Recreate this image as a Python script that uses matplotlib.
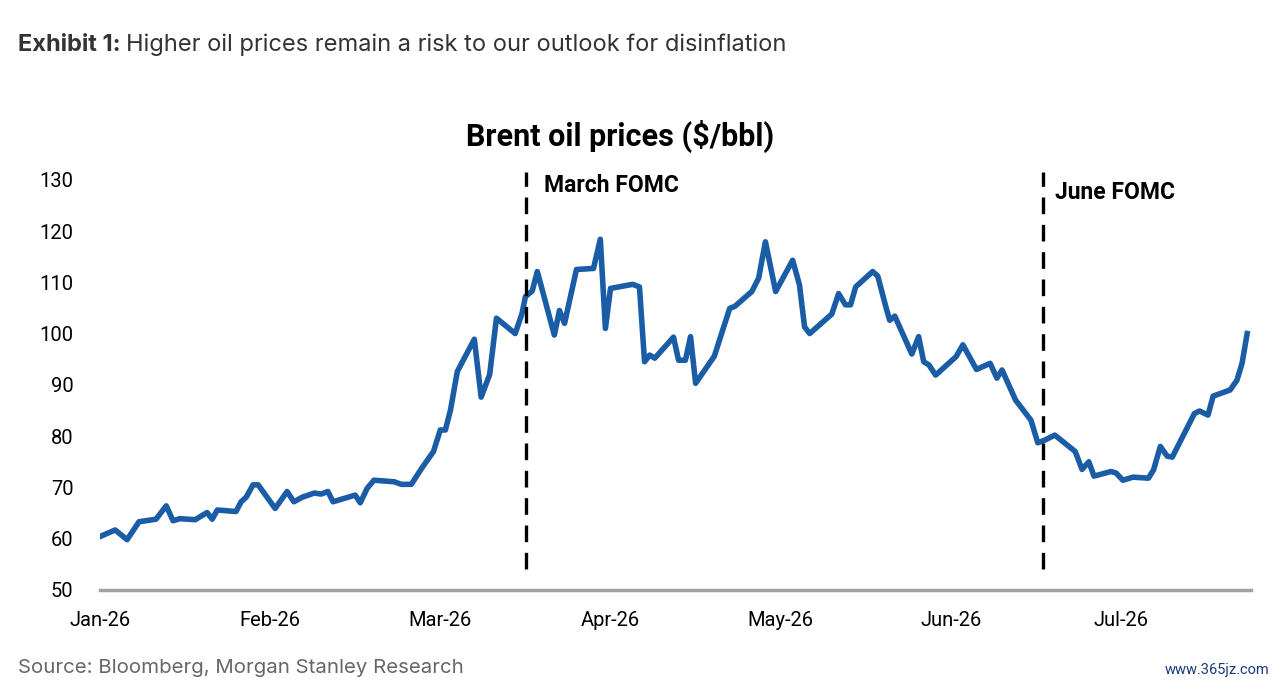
import matplotlib
matplotlib.use("Agg")
import matplotlib.pyplot as plt
from matplotlib import font_manager

# months since Jan-26 (category positions) and Brent price
months = [0.0, 0.09, 0.16, 0.23, 0.33, 0.39, 0.43, 0.47, 0.56, 0.63, 0.66, 0.69,
          0.80, 0.83, 0.86, 0.90, 0.93, 1.03, 1.10, 1.14, 1.19, 1.26, 1.30, 1.34,
          1.37, 1.50, 1.53, 1.57, 1.61, 1.73, 1.77, 1.83, 1.89, 1.96, 2.00, 2.03,
          2.06, 2.10, 2.20, 2.24, 2.29, 2.33, 2.44, 2.48, 2.50, 2.54, 2.57, 2.67,
          2.70, 2.73, 2.80, 2.90, 2.94, 2.97, 3.00, 3.13, 3.17, 3.20, 3.23, 3.26,
          3.37, 3.40, 3.44, 3.47, 3.50, 3.61, 3.70, 3.73, 3.83, 3.87, 3.91, 3.97,
          4.07, 4.11, 4.14, 4.17, 4.30, 4.34, 4.38, 4.41, 4.44, 4.54, 4.57, 4.62,
          4.64, 4.67, 4.77, 4.81, 4.84, 4.87, 4.91, 5.03, 5.07, 5.15, 5.23, 5.27,
          5.30, 5.38, 5.47, 5.51, 5.55, 5.61, 5.73, 5.77, 5.81, 5.84, 5.94, 5.97,
          6.01, 6.07, 6.16, 6.19, 6.23, 6.27, 6.30, 6.43, 6.46, 6.51, 6.54, 6.64,
          6.68, 6.71, 6.74]
brent = [60.4, 61.7, 59.8, 63.3, 63.8, 66.4, 63.5, 63.9, 63.7, 65.1, 63.8, 65.6,
         65.3, 67.2, 68.1, 70.5, 70.5, 65.9, 69.2, 67.2, 68.1, 68.9, 68.7, 69.2,
         67.2, 68.5, 67.0, 69.8, 71.4, 71.1, 70.6, 70.6, 73.7, 77.0, 81.2, 81.2,
         85.1, 92.6, 98.9, 87.6, 92.0, 103.0, 100.0, 103.9, 107.2, 108.3, 112.1, 99.7,
         104.5, 102.0, 112.5, 112.7, 118.4, 101.0, 108.8, 109.6, 109.1, 94.5, 95.8, 95.2,
         99.3, 94.8, 94.8, 99.4, 90.3, 95.6, 104.9, 105.3, 108.2, 110.8, 117.9, 108.2,
         114.3, 109.5, 101.3, 100.0, 103.8, 107.8, 105.6, 105.6, 109.1, 112.1, 111.2, 104.9,
         102.6, 103.4, 96.0, 99.4, 94.5, 93.9, 91.9, 95.5, 97.8, 93.0, 94.2, 91.3,
         92.9, 87.0, 83.1, 78.7, 79.2, 80.2, 77.0, 73.5, 75.0, 72.2, 73.1, 72.8,
         71.4, 72.0, 71.8, 73.4, 78.0, 76.1, 75.9, 84.4, 84.9, 84.1, 87.8, 89.0,
         90.9, 94.2, 100.0]

month_labels = ["Jan-26", "Feb-26", "Mar-26", "Apr-26", "May-26", "Jun-26", "Jul-26"]
fomc_pos = [2.506, 5.54]
fomc_names = ["March FOMC", "June FOMC"]
fomc_label_x = [2.61, 5.61]
fomc_label_y = [128.8, 127.6]

names = {f.name for f in font_manager.fontManager.ttflist}
narrow = "Liberation Sans Narrow" if "Liberation Sans Narrow" in names else "Roboto"
body = "Inter" if "Inter" in names else "DejaVu Sans"

fig = plt.figure(figsize=(12.8, 6.86), dpi=100)
ax = fig.add_axes([0.078, 0.140, 0.899, 0.598])

ax.plot(months, brent, color="#1a5da6", lw=4.0, solid_joinstyle="round")
for p, name, lx, ly in zip(fomc_pos, fomc_names, fomc_label_x, fomc_label_y):
    ax.plot([p, p], [54.0, 131.5], color="black", lw=2.4, ls=(0, (5, 3.2)), clip_on=False)
    ax.text(lx, ly, name, fontsize=16.5, fontweight="bold", family=narrow,
            va="center", ha="left")

ax.set_xlim(0, 6.76)
ax.set_ylim(50, 130)
ax.set_yticks(range(50, 131, 10))
ax.set_xticks(range(len(month_labels)))
ax.set_xticklabels(month_labels)
for lab in ax.get_xticklabels() + ax.get_yticklabels():
    lab.set_family(narrow)
    lab.set_fontsize(14.5)
ax.tick_params(length=0)
ax.tick_params(axis="y", pad=19)
ax.tick_params(axis="x", pad=15)
for s in ["top", "right", "left"]:
    ax.spines[s].set_visible(False)
ax.spines["bottom"].set_color("#a0a0a0")
ax.spines["bottom"].set_linewidth(2.5)

fig.text(620 / 1280, 1 - 136 / 686, "Brent oil prices ($/bbl)", fontsize=22,
         fontweight="bold", family=narrow, ha="center", va="center")

# header
t1 = fig.text(0.014, 0.935, "Exhibit 1:", fontsize=17, fontweight="bold",
              family=body, color="#333333", va="center")
fig.canvas.draw()
bb = t1.get_window_extent()
x2 = bb.x1 / fig.bbox.width + 0.004
fig.text(x2, 0.935, "Higher oil prices remain a risk to our outlook for disinflation",
         fontsize=17, family=body, color="#333333", va="center")

fig.text(0.014, 0.026, "Source: Bloomberg, Morgan Stanley Research", fontsize=14.7,
         family=body, color="#666666", va="center")
fig.text(0.992, 0.024, "www.365jz.com", fontsize=10.5, family=narrow,
         color="#1a3a7a", va="center", ha="right")

fig.savefig("out.png", dpi=100)
